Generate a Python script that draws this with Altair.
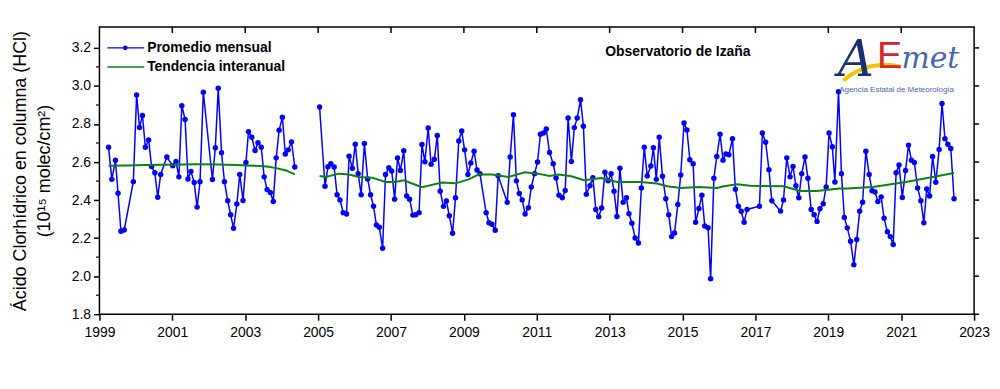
import altair as alt
import pandas as pd

# ---------------- data ----------------
years_1999_2004 = [1999.25, 1999.34, 1999.44, 1999.51, 1999.59, 1999.68, 1999.93,
                   2000.02, 2000.10, 2000.18, 2000.26, 2000.35, 2000.43, 2000.52, 2000.60, 2000.68, 2000.85,
                   2001.01, 2001.10, 2001.18, 2001.26, 2001.35, 2001.43, 2001.51, 2001.60, 2001.68, 2001.76, 2001.85,
                   2002.10, 2002.18, 2002.26, 2002.35, 2002.43, 2002.52, 2002.60, 2002.68, 2002.77, 2002.85, 2002.94,
                   2003.02, 2003.09, 2003.18, 2003.27, 2003.35, 2003.44, 2003.52, 2003.60, 2003.69, 2003.77, 2003.85, 2003.93,
                   2004.02, 2004.10, 2004.18, 2004.27, 2004.36]
hcl_1999_2004 = [2.678, 2.509, 2.609, 2.436, 2.236, 2.243, 2.497,
                 2.953, 2.782, 2.845, 2.678, 2.716, 2.577, 2.544, 2.415, 2.535, 2.626,
                 2.581, 2.603, 2.522, 2.896, 2.824, 2.511, 2.551, 2.492, 2.363, 2.497, 2.967,
                 2.508, 2.675, 2.988, 2.649, 2.497, 2.396, 2.323, 2.252, 2.379, 2.534, 2.398,
                 2.598, 2.760, 2.730, 2.661, 2.702, 2.678, 2.522, 2.455, 2.440, 2.393, 2.622, 2.767,
                 2.836, 2.642, 2.664, 2.706, 2.574]

years_2005_2022 = [2005.04, 2005.19, 2005.27, 2005.35, 2005.44, 2005.52, 2005.60, 2005.69, 2005.78, 2005.85, 2005.94,
                   2006.02, 2006.10, 2006.18, 2006.27, 2006.36, 2006.44, 2006.52, 2006.60, 2006.68, 2006.77, 2006.85, 2006.94,
                   2007.02, 2007.10, 2007.18, 2007.26, 2007.35, 2007.43, 2007.51, 2007.60, 2007.68, 2007.77, 2007.85, 2007.93,
                   2008.02, 2008.10, 2008.19, 2008.27, 2008.35, 2008.44, 2008.52, 2008.60, 2008.69, 2008.77, 2008.86, 2008.94,
                   2009.02, 2009.11, 2009.19, 2009.28, 2009.36, 2009.44, 2009.61, 2009.69, 2009.77, 2009.86, 2009.94,
                   2010.19, 2010.27, 2010.36, 2010.44, 2010.52, 2010.60, 2010.68, 2010.77, 2010.85, 2010.94,
                   2011.02, 2011.10, 2011.18, 2011.26, 2011.35, 2011.45, 2011.53, 2011.61, 2011.70, 2011.78, 2011.86, 2011.95,
                   2012.03, 2012.11, 2012.20, 2012.28, 2012.36, 2012.46, 2012.54, 2012.62, 2012.70, 2012.78, 2012.87, 2012.96,
                   2013.04, 2013.12, 2013.20, 2013.28, 2013.37, 2013.46, 2013.53, 2013.61, 2013.70, 2013.79, 2013.87, 2013.95,
                   2014.03, 2014.13, 2014.20, 2014.28, 2014.36, 2014.45, 2014.54, 2014.62, 2014.70, 2014.78, 2014.87, 2014.95,
                   2015.04, 2015.12, 2015.20, 2015.29, 2015.36, 2015.45, 2015.53, 2015.61, 2015.70, 2015.77, 2015.86, 2015.94,
                   2016.03, 2016.11, 2016.19, 2016.27, 2016.37, 2016.45, 2016.53, 2016.61, 2016.69, 2016.77,
                   2017.11, 2017.19, 2017.28, 2017.37, 2017.45, 2017.69, 2017.77, 2017.86, 2017.95,
                   2018.03, 2018.11, 2018.19, 2018.27, 2018.36, 2018.44, 2018.53, 2018.61, 2018.69, 2018.77, 2018.86, 2018.94,
                   2019.02, 2019.11, 2019.18, 2019.28, 2019.36, 2019.44, 2019.52, 2019.61, 2019.70, 2019.78, 2019.86, 2019.94,
                   2020.03, 2020.12, 2020.20, 2020.28, 2020.36, 2020.45, 2020.53, 2020.62, 2020.70, 2020.78, 2020.86, 2020.94,
                   2021.03, 2021.12, 2021.20, 2021.28, 2021.36, 2021.45, 2021.54, 2021.62, 2021.70, 2021.78, 2021.86, 2021.95,
                   2022.04, 2022.12, 2022.20, 2022.28, 2022.36, 2022.45]
hcl_2005_2022 = [2.889, 2.473, 2.575, 2.591, 2.574, 2.428, 2.401, 2.334, 2.327, 2.631, 2.567,
                 2.694, 2.539, 2.428, 2.697, 2.511, 2.428, 2.368, 2.269, 2.257, 2.147, 2.534, 2.570,
                 2.553, 2.405, 2.621, 2.556, 2.659, 2.421, 2.405, 2.321, 2.323, 2.334, 2.692, 2.602,
                 2.779, 2.589, 2.615, 2.739, 2.447, 2.367, 2.395, 2.318, 2.226, 2.412, 2.711, 2.763,
                 2.664, 2.534, 2.595, 2.657, 2.558, 2.539, 2.334, 2.281, 2.273, 2.241, 2.528,
                 2.388, 2.626, 2.849, 2.501, 2.435, 2.401, 2.327, 2.360, 2.469, 2.539,
                 2.600, 2.746, 2.753, 2.774, 2.650, 2.591, 2.516, 2.426, 2.412, 2.450, 2.831, 2.603,
                 2.781, 2.831, 2.927, 2.788, 2.431, 2.476, 2.518, 2.351, 2.313, 2.358, 2.546, 2.502,
                 2.539, 2.447, 2.314, 2.567, 2.388, 2.412, 2.328, 2.278, 2.201, 2.174, 2.464, 2.678,
                 2.527, 2.579, 2.675, 2.509, 2.730, 2.525, 2.407, 2.323, 2.208, 2.227, 2.377, 2.532,
                 2.805, 2.769, 2.612, 2.591, 2.283, 2.356, 2.426, 2.264, 2.255, 1.986, 2.515, 2.629,
                 2.746, 2.610, 2.643, 2.638, 2.722, 2.457, 2.368, 2.341, 2.283, 2.351,
                 2.368, 2.753, 2.704, 2.560, 2.396, 2.342, 2.401, 2.622, 2.522,
                 2.577, 2.475, 2.412, 2.539, 2.626, 2.515, 2.351, 2.323, 2.288, 2.354, 2.381, 2.469,
                 2.753, 2.680, 2.495, 2.969, 2.539, 2.309, 2.254, 2.184, 2.060, 2.193, 2.341, 2.389,
                 2.657, 2.534, 2.449, 2.443, 2.393, 2.417, 2.304, 2.234, 2.208, 2.167, 2.544, 2.584,
                 2.414, 2.556, 2.689, 2.609, 2.598, 2.464, 2.396, 2.281, 2.459, 2.421, 2.629, 2.494,
                 2.666, 2.908, 2.723, 2.694, 2.671, 2.407]

trend_years_1999_2004 = [1999.25, 1999.75, 2000.25, 2000.75, 2001.25, 2001.75, 2002.25, 2002.75,
                         2003.25, 2003.6, 2003.85, 2004.12, 2004.36]
trend_1999_2004 = [2.580, 2.582, 2.584, 2.586, 2.587, 2.588, 2.587, 2.585,
                   2.581, 2.576, 2.568, 2.556, 2.535]
trend_years_2005_2022 = [2005.04, 2005.21, 2005.57, 2005.85, 2006.12, 2006.48, 2006.85, 2007.12, 2007.35,
                         2007.58, 2007.85, 2008.4, 2008.77, 2009.13, 2009.4, 2009.77, 2010.22, 2010.67,
                         2011.03, 2011.35, 2011.6, 2011.95, 2012.3, 2012.76, 2013.21, 2013.85, 2014.3,
                         2014.58, 2014.95, 2015.45, 2015.95, 2016.13, 2016.5, 2016.86, 2017.77, 2018.22,
                         2018.68, 2019.31, 2019.5, 2020.22, 2021.13, 2021.86, 2022.45]
trend_2005_2022 = [2.527, 2.521, 2.539, 2.534, 2.521, 2.518, 2.495, 2.495, 2.504,
                   2.487, 2.468, 2.492, 2.488, 2.509, 2.534, 2.535, 2.521, 2.546,
                   2.539, 2.527, 2.535, 2.525, 2.504, 2.516, 2.495, 2.495, 2.487,
                   2.473, 2.464, 2.469, 2.464, 2.473, 2.483, 2.475, 2.473, 2.448,
                   2.448, 2.461, 2.461, 2.469, 2.495, 2.521, 2.542]

x_tick_years = [1999, 2001, 2003, 2005, 2007, 2009, 2011, 2013, 2015, 2017, 2019, 2021, 2023]
inner_tick_years = [2001, 2003, 2005, 2007, 2009, 2011, 2013, 2015, 2017, 2019, 2021]
y_tick_values = [1.8, 2.0, 2.2, 2.4, 2.6, 2.8, 3.0, 3.2]
y_minor_values = [1.9, 2.1, 2.3, 2.5, 2.7, 2.9, 3.1]
legend_labels = ["Promedio mensual", "Tendencia interanual"]
station_label = "Observatorio de Izaña"
y_title = ["Ácido Clorhídrico en columna (HCl)", "(10¹⁵ molec/cm²)"]

# ---------------- tables ----------------
monthly = pd.DataFrame({
    "year": years_1999_2004 + years_2005_2022,
    "hcl": hcl_1999_2004 + hcl_2005_2022,
    "seg": ["a"] * len(years_1999_2004) + ["b"] * len(years_2005_2022),
})
trend = pd.DataFrame({
    "year": trend_years_1999_2004 + trend_years_2005_2022,
    "hcl": trend_1999_2004 + trend_2005_2022,
    "seg": ["a"] * len(trend_years_1999_2004) + ["b"] * len(trend_years_2005_2022),
})
top_ticks = pd.DataFrame({"year": inner_tick_years})
right_ticks = pd.DataFrame({"hcl": y_tick_values})
minor_ticks = pd.DataFrame({"hcl": y_minor_values})
one = pd.DataFrame({"k": [0]})

FONT = "Liberation Sans"
BLUE = "#0000ff"
GREEN = "#108010"

xs = alt.Scale(domain=[1999, 2023], nice=False, zero=False)
ys = alt.Scale(domain=[1.8, 3.31], nice=False, zero=False)

x_axis = alt.Axis(values=x_tick_years, format="d", title=None, grid=False, domain=False,
                  tickSize=6, tickWidth=1.5, tickColor="black", labelPadding=5,
                  labelFlush=False, labelFontSize=14, labelFont=FONT, labelColor="black")
y_axis = alt.Axis(values=y_tick_values, format=".1f", title=y_title, grid=False, domain=False,
                  tickSize=6, tickWidth=1.5, tickColor="black", labelPadding=3,
                  labelFontSize=14, labelFont=FONT, labelColor="black",
                  titleFont=FONT, titleFontSize=18, titleFontWeight="normal", titleColor="black",
                  titleAngle=270, titleBaseline="bottom", titleAlign="center",
                  titleX=-70, titleY=144.5, titleLineHeight=24)

X = alt.X("year:Q", scale=xs, axis=x_axis)
Y = alt.Y("hcl:Q", scale=ys, axis=y_axis)

monthly_line = alt.Chart(monthly).mark_line(color=BLUE, strokeWidth=1.5).encode(
    x=X, y=Y, detail="seg:N")
monthly_pts = alt.Chart(monthly).mark_circle(color=BLUE, size=30, opacity=1).encode(x=X, y=Y)
trend_line = alt.Chart(trend).mark_line(color=GREEN, strokeWidth=2).encode(
    x=X, y=Y, detail="seg:N")

top_tick_layer = alt.Chart(top_ticks).mark_rule(color="black", strokeWidth=1.5).encode(
    x=X, y=alt.value(0), y2=alt.value(6))
right_tick_layer = alt.Chart(right_ticks).mark_rule(color="black", strokeWidth=1.5).encode(
    y=Y, x=alt.value(880), x2=alt.value(885))
minor_tick_layer = alt.Chart(minor_ticks).mark_rule(color="black", strokeWidth=1.2).encode(
    y=Y, x=alt.value(-3.5), x2=alt.value(0))

# legend
leg_line1 = alt.Chart(one).mark_rule(color=BLUE, strokeWidth=1.2).encode(
    x=alt.value(8), x2=alt.value(45), y=alt.value(21))
leg_dot1 = alt.Chart(one).mark_circle(color=BLUE, size=22, opacity=1).encode(
    x=alt.value(26), y=alt.value(21))
leg_line2 = alt.Chart(one).mark_rule(color=GREEN, strokeWidth=1.5).encode(
    x=alt.value(8), x2=alt.value(45), y=alt.value(40.3))
leg_txt1 = alt.Chart(one).mark_text(text=legend_labels[0], font=FONT, fontSize=14, fontWeight="bold",
                                    align="left", baseline="middle", color="black").encode(
    x=alt.value(48), y=alt.value(21))
leg_txt2 = alt.Chart(one).mark_text(text=legend_labels[1], font=FONT, fontSize=14, fontWeight="bold",
                                    align="left", baseline="middle", color="black").encode(
    x=alt.value(48), y=alt.value(40.3))
station = alt.Chart(one).mark_text(text=station_label, font=FONT, fontSize=14, fontWeight="bold",
                                   align="center", baseline="middle", color="black").encode(
    x=alt.value(582), y=alt.value(25.3))

# AEMET logo (approximation with text)
logo_swoosh = alt.Chart(one).mark_arc(color="#f2c500", radius=64, radius2=60).encode(
    x=alt.value(790), y=alt.value(100), theta=alt.value(5.55), theta2=alt.value(6.55))
logo_a = alt.Chart(one).mark_text(text="A", font="DejaVu Serif", fontSize=50, fontStyle="italic",
                                  align="center", baseline="alphabetic", color="#1b2f73").encode(
    x=alt.value(761), y=alt.value(49))
logo_e = alt.Chart(one).mark_text(text="E", font=FONT, fontSize=38, align="center",
                                  baseline="alphabetic", color="#d7262b").encode(
    x=alt.value(795), y=alt.value(41))
logo_met = alt.Chart(one).mark_text(text="met", font="DejaVu Serif", fontSize=30, fontStyle="italic",
                                    align="center", baseline="alphabetic", color="#4a66aa").encode(
    x=alt.value(836), y=alt.value(41))
logo_sub = alt.Chart(one).mark_text(text="Agencia Estatal de Meteorología", font=FONT, fontSize=8,
                                    align="center", baseline="middle", color="#4d66a8").encode(
    x=alt.value(802), y=alt.value(63))

chart = alt.layer(
    monthly_line, monthly_pts, trend_line, top_tick_layer, right_tick_layer, minor_tick_layer,
    leg_line1, leg_dot1, leg_line2, leg_txt1, leg_txt2, station,
    logo_swoosh, logo_a, logo_e, logo_met, logo_sub,
).properties(
    width=880, height=289,
    padding={"left": 92, "top": 18, "right": 18, "bottom": 50},
    autosize=alt.AutoSizeParams(type="none"),
    background="white",
).configure_view(stroke="black", strokeWidth=1.5)

chart.save("out.html", embed_options={"renderer": "svg", "actions": False})
